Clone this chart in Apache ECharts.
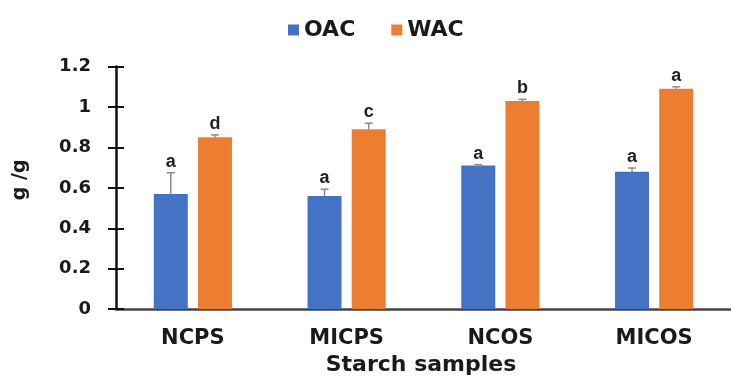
<!DOCTYPE html>
<html>
<head>
<meta charset="utf-8">
<script src="https://cdn.jsdelivr.net/npm/echarts@6/dist/echarts.min.js"></script>
<style>html,body{margin:0;padding:0;background:#fff;overflow:hidden}#c{width:731px;height:381px}</style>
</head>
<body>
<div id="c"></div>
<script>
const categories = ['NCPS', 'MICPS', 'NCOS', 'MICOS'];
const oacValues = [0.57, 0.56, 0.71, 0.68];
const oacErrors = [0.105, 0.033, 0.005, 0.018];
const oacLetters = ['a', 'a', 'a', 'a'];
const wacValues = [0.85, 0.89, 1.03, 1.09];
const wacErrors = [0.012, 0.03, 0.008, 0.01];
const wacLetters = ['d', 'c', 'b', 'a'];
const yTicks = [0, 0.2, 0.4, 0.6, 0.8, 1, 1.2];

const FONT = 'DejaVu Sans';
const LETTER_FONT = 'bold 18px "Liberation Sans Narrow", "Arial Narrow", "Liberation Sans", sans-serif';
const BAR_W = 34;
const BAR_GAP = 0.3;
const OFFSET = (BAR_W + BAR_W * BAR_GAP) / 2;

function errSeries(name, values, errors, letters, sign, color) {
  return {
    name: name,
    type: 'custom',
    z: 5,
    data: values.map((v, i) => [i, v, errors[i]]),
    renderItem: function (params, api) {
      const i = api.value(0), v = api.value(1), e = api.value(2);
      const b = api.coord([i, v]);
      const t = api.coord([i, v + e]);
      const x = b[0] + sign * OFFSET;
      return {
        type: 'group',
        children: [
          { type: 'line', shape: { x1: x, y1: b[1], x2: x, y2: t[1] }, style: { stroke: color, lineWidth: 1.5 } },
          { type: 'line', shape: { x1: x - 4, y1: t[1], x2: x + 4, y2: t[1] }, style: { stroke: color, lineWidth: 1.5 } },
          { type: 'text', x: x, y: t[1] - 2, style: { text: letters[i], textAlign: 'center', textVerticalAlign: 'bottom', font: LETTER_FONT, fill: '#222' } }
        ]
      };
    }
  };
}

const chart = echarts.init(document.getElementById('c'), null, { renderer: 'canvas' });
chart.setOption({
  animation: false,
  legend: {
    data: ['OAC', 'WAC'],
    top: 14,
    left: 283,
    itemWidth: 11,
    itemHeight: 11,
    itemGap: 36,
    icon: 'rect',
    textStyle: { fontFamily: FONT, fontWeight: 'bold', fontSize: 22, color: '#1a1a1a' }
  },
  grid: { left: 116, top: 66.6, height: 245.1, width: 622 },
  xAxis: {
    type: 'category',
    data: categories,
    axisLine: { lineStyle: { color: '#444', width: 2.5 } },
    axisTick: { show: false },
    axisLabel: { margin: 19, fontFamily: FONT, fontWeight: 'bold', fontSize: 21, color: '#1a1a1a' },
    name: 'Starch samples',
    nameLocation: 'middle',
    nameGap: 41,
    nameTextStyle: { fontFamily: FONT, fontWeight: 'bold', fontSize: 22, color: '#1a1a1a', padding: [0, 5, 0, 0] }
  },
  yAxis: [{
    type: 'value',
    min: 0, max: 1.2, interval: 0.2,
    splitLine: { show: false },
    axisLine: { show: true, lineStyle: { color: '#111', width: 2.5 } },
    axisTick: { show: true, length: 8, lineStyle: { color: '#111', width: 2 } },
    axisLabel: {
      margin: 25, fontFamily: FONT, fontWeight: 'bold', fontSize: 18, color: '#1a1a1a',
      formatter: v => { const t = yTicks.find(x => Math.abs(x - v) < 1e-9); return t === undefined ? '' : String(t); }
    },
    name: 'g /g',
    nameLocation: 'middle',
    nameGap: 86,
    nameTextStyle: { fontFamily: FONT, fontWeight: 'bold', fontSize: 19, color: '#1a1a1a', padding: [0, 0, 0, 16] }
  }, {
    type: 'value',
    position: 'left',
    min: 0, max: 1.2, interval: 0.2,
    splitLine: { show: false },
    axisLine: { show: false },
    axisTick: { show: true, inside: true, length: 8, lineStyle: { color: '#111', width: 2 } },
    axisLabel: { show: false }
  }],
  series: [
    { name: 'OAC', type: 'bar', data: oacValues, barWidth: BAR_W, barGap: (BAR_GAP * 100) + '%', itemStyle: { color: '#4472C4' } },
    { name: 'WAC', type: 'bar', data: wacValues, barWidth: BAR_W, barGap: (BAR_GAP * 100) + '%', itemStyle: { color: '#ED7D31' } },
    errSeries('OAC err', oacValues, oacErrors, oacLetters, -1, '#8a8a8a'),
    errSeries('WAC err', wacValues, wacErrors, wacLetters, 1, '#8a8a8a')
  ]
});
</script>
</body>
</html>
